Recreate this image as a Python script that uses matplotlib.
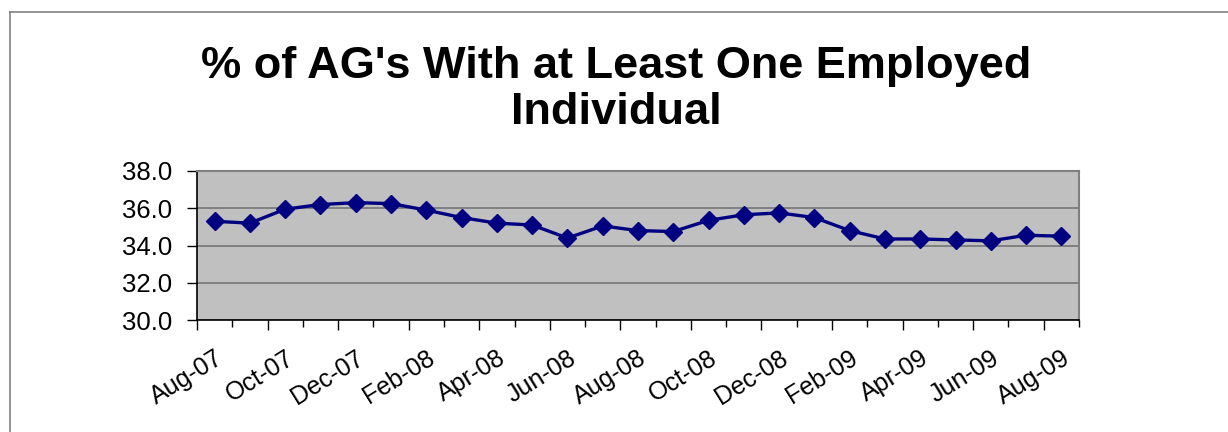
import matplotlib
matplotlib.use("Agg")
import matplotlib.pyplot as plt
from matplotlib.lines import Line2D
import numpy as np

plt.rcParams['font.family'] = ['Liberation Sans', 'DejaVu Sans']

title = "% of AG's With at Least One Employed\nIndividual"
months = ["Aug-07", "Sep-07", "Oct-07", "Nov-07", "Dec-07", "Jan-08", "Feb-08",
          "Mar-08", "Apr-08", "May-08", "Jun-08", "Jul-08", "Aug-08", "Sep-08",
          "Oct-08", "Nov-08", "Dec-08", "Jan-09", "Feb-09", "Mar-09", "Apr-09",
          "May-09", "Jun-09", "Jul-09", "Aug-09"]
values = [35.3, 35.2, 35.95, 36.2, 36.3, 36.25, 35.9, 35.5, 35.2, 35.1, 34.4,
          35.05, 34.8, 34.75, 35.35, 35.65, 35.75, 35.5, 34.8, 34.35, 34.35,
          34.3, 34.25, 34.55, 34.5]
y_ticks = [30.0, 32.0, 34.0, 36.0, 38.0]

W, H = 1228, 432
fig = plt.figure(figsize=(W / 100, H / 100), dpi=100)
fig.patch.set_facecolor('white')

ax = fig.add_axes([197 / W, 1 - 320 / H, (1079 - 197) / W, (320 - 171) / H])
ax.set_facecolor('#C0C0C0')

n = len(values)
x = np.arange(n)
ax.plot(x, values, color='#000080', lw=2.4, marker='D', ms=9.5,
        markerfacecolor='#000080', markeredgecolor='#000080', zorder=3)

ax.set_xlim(-0.5, n - 0.5)
ax.set_ylim(30, 38)
ax.set_yticks(y_ticks)
ax.set_yticklabels([f"{v:.1f}" for v in y_ticks], fontsize=18.5)
ax.yaxis.grid(True, color='#808080', lw=1.4)
ax.set_axisbelow(True)

# category boundary ticks
ax.set_xticks(np.arange(-0.5, n, 2.0))
ax.set_xticks(np.arange(0.5, n, 2.0), minor=True)
ax.tick_params(axis='x', which='major', length=7, width=1, labelbottom=False)
ax.tick_params(axis='x', which='minor', length=5, width=1, labelbottom=False)
ax.tick_params(axis='y', length=7, width=1, pad=11)

for i in range(0, n, 2):
    ax.annotate(months[i], xy=(x[i], 30), xycoords='data',
                xytext=(4.5, -26), textcoords='offset points',
                rotation=32, rotation_mode='anchor', ha='right', va='center',
                fontsize=18)

for s in ['top', 'right']:
    ax.spines[s].set_color('#808080')
    ax.spines[s].set_linewidth(1.5)
for s in ['left', 'bottom']:
    ax.spines[s].set_color('black')
    ax.spines[s].set_linewidth(1.2)

lines = title.split('\n')
fig.text(616 / W, 1 - 78 / H, lines[0], ha='center', va='baseline',
         fontsize=32.5, fontweight='bold')
fig.text(616 / W, 1 - 124 / H, lines[1], ha='center', va='baseline',
         fontsize=32.5, fontweight='bold')

fig.add_artist(Line2D([9.5 / W, 9.5 / W], [0, 1 - 12 / H], color='#808080', lw=1.2,
                      transform=fig.transFigure))
fig.add_artist(Line2D([9.5 / W, 1], [1 - 12 / H, 1 - 12 / H], color='#808080', lw=1.2,
                      transform=fig.transFigure))

fig.savefig('out.png', dpi=100)
